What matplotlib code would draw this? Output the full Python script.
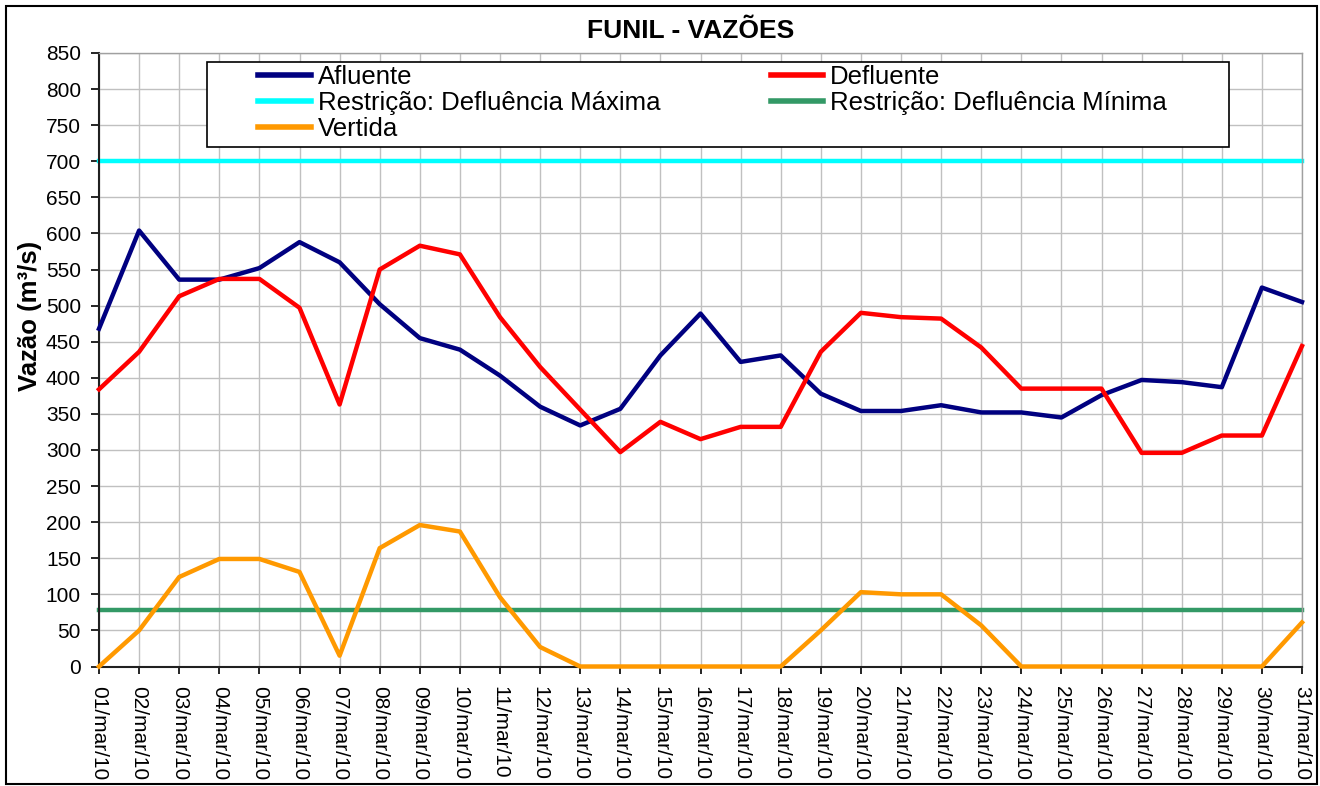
"""
FUNIL - Vazões (março/2010): afluente, defluente, vertida e restrições.
"""
import numpy as np
import matplotlib.pyplot as plt
from matplotlib.patches import Rectangle

plt.rcParams["font.family"] = ["Liberation Sans", "DejaVu Sans"]

# -------------------- Data --------------------
dias = [f"{d:02d}/mar/10" for d in range(1, 32)]

afluente = [468, 604, 536, 536, 552, 588, 560, 502, 455, 439,
            403, 360, 334, 357, 431, 489, 422, 431, 378, 354,
            354, 362, 352, 352, 345, 376, 397, 394, 387, 525, 505]
defluente = [384, 436, 513, 537, 537, 497, 363, 550, 583, 571,
             484, 415, 356, 297, 339, 315, 332, 332, 436, 490,
             484, 482, 442, 385, 385, 385, 296, 296, 320, 320, 444]
vertida = [0, 50, 124, 149, 149, 131, 15, 164, 196, 187,
           96, 27, 0, 0, 0, 0, 0, 0, 50, 103,
           100, 100, 57, 0, 0, 0, 0, 0, 0, 0, 61]
defl_max = 700
defl_min = 78

y_ticks = list(range(0, 851, 50))

# -------------------- Plot --------------------
W, H = 1320, 786
fig = plt.figure(figsize=(W / 100, H / 100), dpi=100)
ax = fig.add_axes([99 / W, 1 - 666.5 / H, (1302 - 99) / W, (666.5 - 53) / H])

x = np.arange(len(dias))
lw = 3.2
l_afl, = ax.plot(x, afluente, color="#000080", lw=lw, clip_on=False, zorder=3)
l_def, = ax.plot(x, defluente, color="#FF0000", lw=lw, clip_on=False, zorder=3)
l_max, = ax.plot(x, [defl_max] * len(x), color="#00FFFF", lw=lw, clip_on=False, zorder=2)
l_min, = ax.plot(x, [defl_min] * len(x), color="#339966", lw=lw, clip_on=False, zorder=2)
l_ver, = ax.plot(x, vertida, color="#FF9900", lw=lw, clip_on=False, zorder=3)

ax.set_xlim(0, len(x) - 1)
ax.set_ylim(0, 850)
ax.set_yticks(y_ticks)
ax.set_xticks(x)
ax.set_xticklabels(dias, rotation=270, fontsize=15)
ax.tick_params(axis="y", labelsize=15, direction="out", length=6, width=1.2, pad=7)
ax.tick_params(axis="x", direction="out", length=5, width=1.2, pad=9)
ax.grid(True, color="#C0C0C0", lw=1)
ax.set_axisbelow(True)

for s in ["left", "bottom"]:
    ax.spines[s].set_color("#202020")
    ax.spines[s].set_linewidth(1.5)
for s in ["top", "right"]:
    ax.spines[s].set_color("#A0A0A0")
    ax.spines[s].set_linewidth(1)

# legend box
box = Rectangle((207 / W, 1 - 147 / H), (1229 - 207) / W, 85 / H, transform=fig.transFigure,
                facecolor="white", edgecolor="black", lw=1.2, zorder=5)
ax.add_patch(box)

leg = ax.legend([l_afl, l_max, l_ver, l_def, l_min],
                ["Afluente", "Restrição: Defluência Máxima", "Vertida",
                 "Defluente", "Restrição: Defluência Mínima"],
                ncol=2, loc="upper left", bbox_to_anchor=(258 / W, 1 - 65 / H),
                bbox_transform=fig.transFigure, frameon=False, fontsize=18.5,
                borderpad=0, borderaxespad=0, labelspacing=0.08,
                handlelength=2.05, handletextpad=0.27, columnspacing=4.3)
leg.set_zorder(6)
for h in leg.get_lines():
    h.set_linewidth(4)

fig.text(691 / W, 1 - 31 / H, "FUNIL - VAZÕES", ha="center", va="center",
         fontsize=19, fontweight="bold")
fig.text(30 / W, 1 - 316 / H, "Vazão (m³/s)", ha="center", va="center",
         rotation=90, fontsize=18.5, fontweight="bold")

# outer border
fig.patches.append(Rectangle((6 / W, 1 - 784 / H), (1317 - 6) / W, (784 - 6) / H,
                             transform=fig.transFigure, fill=False,
                             edgecolor="black", lw=1.5))

fig.savefig("out.png", dpi=100)
